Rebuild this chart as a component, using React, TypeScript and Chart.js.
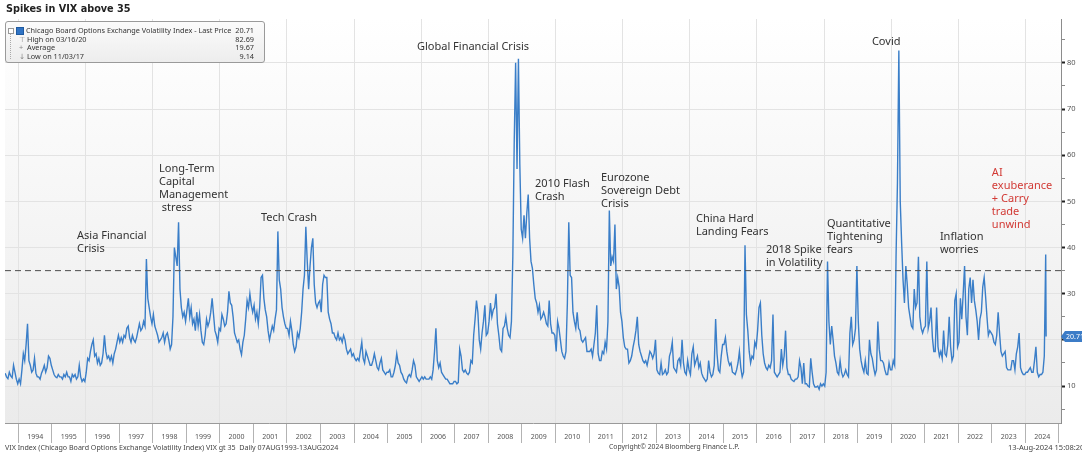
import React, { useEffect, useRef } from 'react';
import { Chart, registerables } from 'chart.js';

Chart.register(...registerables);

// VIX closes, one value per half month (first/second half of each month)
const vix1993 = [12.8, 12.0, 11.6, 13.0, 12.2, 11.8, 14.5, 13.0, 11.5, 10.5]; // from Aug 1993
const vix1994 = [11.5, 10.5, 13.5, 17.0, 15.5, 19.0, 23.5, 15.5, 14.5, 13.0, 13.5, 16.0, 12.8, 12.0, 12.0, 11.5, 12.8, 13.5, 14.5, 13.0, 14.0, 16.5, 16.0, 14.5];
const vix1995 = [13.5, 12.5, 12.0, 11.8, 12.5, 12.0, 12.0, 11.5, 12.5, 12.0, 13.0, 12.0, 12.0, 11.0, 12.5, 12.0, 12.5, 11.5, 12.0, 14.5, 12.0, 11.0, 11.5, 11.0];
const vix1996 = [13.0, 16.0, 15.5, 17.5, 19.0, 20.0, 16.5, 17.0, 15.0, 16.0, 14.5, 15.0, 17.0, 21.0, 17.5, 16.0, 16.5, 15.5, 16.5, 15.0, 17.0, 18.0, 19.5, 21.0];
const vix1997 = [19.5, 20.5, 19.5, 21.0, 20.5, 22.5, 23.0, 20.5, 19.5, 21.0, 20.0, 19.5, 20.5, 22.0, 23.5, 22.0, 22.5, 24.0, 23.0, 37.5, 29.0, 27.0, 25.0, 23.5];
const vix1998 = [25.5, 23.0, 22.0, 21.0, 19.5, 20.0, 20.5, 21.5, 19.5, 21.0, 21.5, 20.0, 18.0, 19.0, 25.0, 40.0, 38.0, 36.0, 45.5, 31.0, 27.0, 25.0, 26.0, 24.0];
const vix1999 = [26.5, 29.0, 25.0, 27.0, 23.5, 24.5, 22.0, 26.0, 23.0, 25.5, 22.0, 19.5, 19.0, 21.0, 24.5, 23.0, 24.0, 26.0, 29.0, 25.5, 22.0, 21.0, 19.5, 22.5];
const vix2000 = [22.0, 25.5, 24.5, 23.0, 23.5, 26.0, 30.5, 28.0, 27.5, 25.0, 21.5, 20.5, 19.5, 20.0, 18.0, 16.8, 19.5, 21.0, 24.5, 28.5, 27.0, 30.0, 27.5, 26.0];
const vix2001 = [27.5, 24.5, 26.0, 23.5, 27.0, 33.5, 34.0, 29.0, 26.5, 25.0, 22.0, 20.0, 21.5, 23.0, 22.0, 24.5, 26.5, 43.5, 33.0, 31.0, 27.0, 25.0, 23.5, 22.5];
const vix2002 = [22.5, 21.0, 24.0, 22.0, 19.0, 17.5, 18.5, 21.5, 20.5, 22.5, 26.0, 31.0, 34.0, 44.5, 37.0, 31.0, 36.0, 40.0, 42.0, 32.0, 28.0, 27.0, 28.0, 28.5];
const vix2003 = [26.0, 32.0, 34.0, 33.5, 33.5, 26.0, 24.5, 23.5, 21.5, 21.5, 20.5, 20.0, 21.5, 20.0, 20.5, 19.5, 21.0, 20.0, 18.0, 17.0, 17.5, 18.0, 16.5, 17.0];
const vix2004 = [16.0, 15.5, 16.0, 15.5, 17.5, 19.5, 16.0, 15.0, 17.5, 16.5, 15.5, 14.5, 14.5, 15.5, 17.0, 15.5, 14.0, 13.5, 15.0, 16.0, 13.5, 13.0, 12.5, 13.0];
const vix2005 = [13.0, 13.5, 12.0, 12.0, 13.0, 14.5, 17.0, 15.0, 14.5, 13.0, 12.5, 11.5, 11.0, 10.7, 12.0, 12.5, 12.0, 13.5, 15.5, 14.5, 12.0, 11.5, 11.0, 11.5];
const vix2006 = [12.0, 11.5, 12.0, 11.5, 11.5, 11.5, 12.0, 11.5, 13.5, 17.5, 22.5, 15.5, 14.0, 15.0, 13.0, 12.5, 12.0, 11.5, 11.5, 11.0, 10.5, 10.5, 10.5, 11.0];
const vix2007 = [11.0, 10.5, 10.8, 18.0, 16.5, 13.5, 13.0, 13.5, 12.8, 12.5, 13.0, 15.5, 15.0, 21.0, 24.5, 28.5, 26.0, 20.0, 18.0, 21.5, 24.0, 27.5, 21.0, 21.5];
const vix2008 = [24.0, 28.0, 25.0, 26.5, 27.0, 30.0, 23.5, 21.0, 18.0, 17.5, 22.5, 23.0, 25.0, 22.5, 21.0, 20.5, 24.0, 38.0, 63.0, 80.0, 57.0, 80.9, 58.0, 44.0];
const vix2009 = [42.0, 47.0, 42.0, 47.5, 51.5, 42.0, 37.0, 35.5, 32.0, 29.0, 28.0, 26.0, 27.5, 24.5, 25.0, 26.0, 25.0, 23.5, 23.0, 28.5, 23.5, 21.5, 21.5, 21.0];
const vix2010 = [17.5, 24.0, 22.5, 20.0, 17.5, 16.5, 16.0, 17.5, 28.0, 45.5, 34.0, 33.5, 26.0, 24.0, 22.5, 26.0, 22.5, 22.0, 20.0, 19.5, 20.0, 20.5, 17.5, 17.5];
const vix2011 = [17.5, 18.0, 16.5, 19.0, 21.5, 27.5, 17.0, 15.5, 15.5, 17.5, 17.0, 19.5, 18.0, 24.0, 48.0, 36.0, 38.0, 37.0, 45.0, 31.0, 33.5, 31.5, 26.0, 24.0];
const vix2012 = [20.5, 18.5, 18.0, 18.0, 15.0, 15.5, 16.5, 18.5, 20.0, 22.0, 25.0, 19.0, 17.5, 16.5, 15.5, 15.0, 15.5, 14.5, 16.0, 17.5, 17.0, 16.0, 17.0, 20.0];
const vix2013 = [13.5, 12.8, 12.5, 15.0, 12.5, 12.8, 13.5, 12.5, 13.0, 16.5, 17.5, 19.5, 14.0, 13.5, 13.0, 15.5, 16.0, 14.5, 20.0, 15.0, 13.0, 12.5, 15.5, 13.5];
const vix2014 = [12.5, 17.0, 18.5, 14.5, 15.5, 16.5, 14.0, 15.0, 12.8, 12.0, 11.5, 11.0, 11.5, 15.5, 13.0, 12.0, 12.5, 14.5, 24.5, 17.0, 13.5, 13.0, 16.5, 19.0];
const vix2015 = [19.0, 20.5, 17.5, 15.5, 14.5, 15.0, 13.0, 12.8, 12.5, 13.5, 15.0, 17.5, 14.0, 12.0, 13.0, 40.5, 25.5, 22.0, 17.5, 15.0, 16.5, 16.0, 19.5, 18.5];
const vix2016 = [22.0, 27.0, 28.0, 21.0, 17.0, 15.0, 14.0, 13.5, 14.5, 14.0, 15.5, 25.5, 13.0, 12.5, 12.0, 12.5, 13.0, 18.0, 14.5, 16.5, 22.0, 14.0, 12.5, 12.5];
const vix2017 = [11.5, 11.2, 11.0, 11.5, 11.5, 12.0, 15.5, 14.0, 10.5, 15.0, 10.5, 10.5, 10.0, 9.8, 16.0, 13.0, 10.5, 9.8, 9.8, 10.0, 9.3, 10.5, 10.0, 10.5];
const vix2018 = [10.0, 13.0, 37.0, 24.0, 19.0, 23.0, 20.0, 16.5, 15.0, 13.0, 12.5, 15.5, 13.0, 12.0, 12.5, 13.5, 12.5, 12.0, 21.5, 25.0, 19.0, 20.0, 22.5, 36.0];
const vix2019 = [24.0, 18.0, 15.5, 14.0, 13.0, 15.5, 12.8, 12.5, 20.0, 17.0, 16.0, 14.0, 12.5, 13.5, 24.0, 18.0, 15.5, 15.5, 15.0, 13.5, 12.5, 12.5, 15.0, 13.5];
const vix2020 = [13.5, 15.5, 14.5, 38.0, 54.0, 82.7, 50.0, 41.0, 33.0, 28.0, 36.0, 32.0, 27.0, 25.0, 23.0, 22.5, 31.0, 27.0, 28.0, 38.0, 25.0, 22.5, 21.5, 22.5];
const vix2021 = [23.0, 37.0, 22.5, 24.0, 27.0, 20.5, 17.5, 17.5, 27.0, 18.5, 16.5, 17.5, 16.0, 22.0, 17.0, 16.5, 19.0, 25.0, 18.5, 15.5, 16.5, 28.5, 30.0, 18.5];
const vix2022 = [19.5, 29.0, 24.5, 30.0, 36.0, 25.0, 21.0, 31.0, 33.5, 28.0, 33.0, 28.5, 26.5, 24.0, 20.0, 24.5, 26.0, 31.5, 33.5, 29.5, 25.0, 21.0, 22.0, 21.5];
const vix2023 = [21.0, 19.5, 19.0, 21.0, 26.0, 21.5, 17.5, 16.5, 17.0, 17.5, 14.0, 13.5, 13.5, 13.5, 15.5, 15.5, 13.5, 17.0, 18.5, 21.5, 14.0, 13.0, 12.5, 12.5];
const vix2024 = [13.0, 13.0, 13.5, 14.0, 13.0, 13.0, 15.5, 18.5, 13.0, 12.0, 12.5, 12.5, 13.0, 16.5, 38.5]; // to early Aug 2024

const firstYearStartHalfMonth = 14; // series begins in August 1993
const vixByYear: [number, number[]][] = [
  [1993, vix1993], [1994, vix1994], [1995, vix1995], [1996, vix1996], [1997, vix1997],
  [1998, vix1998], [1999, vix1999], [2000, vix2000], [2001, vix2001], [2002, vix2002],
  [2003, vix2003], [2004, vix2004], [2005, vix2005], [2006, vix2006], [2007, vix2007],
  [2008, vix2008], [2009, vix2009], [2010, vix2010], [2011, vix2011], [2012, vix2012],
  [2013, vix2013], [2014, vix2014], [2015, vix2015], [2016, vix2016], [2017, vix2017],
  [2018, vix2018], [2019, vix2019], [2020, vix2020], [2021, vix2021], [2022, vix2022],
  [2023, vix2023], [2024, vix2024],
];

const lastPrice = 20.71;
const lastDate = 2024.617; // 13 Aug 2024
const threshold = 35;

const yearLabels = ['1994', '1995', '1996', '1997', '1998', '1999', '2000', '2001', '2002', '2003', '2004',
  '2005', '2006', '2007', '2008', '2009', '2010', '2011', '2012', '2013', '2014', '2015', '2016', '2017',
  '2018', '2019', '2020', '2021', '2022', '2023', '2024'];
const gridYears = [1994, 1996, 1998, 2000, 2002, 2004, 2006, 2008, 2010, 2012, 2014, 2016, 2018, 2020, 2022, 2024];
const yTickValues = [5, 10, 15, 20, 25, 30, 35, 40, 45, 50, 55, 60, 65, 70, 75, 80, 85];
const yLabelValues = [10, 20, 30, 40, 50, 60, 70, 80];

const X_MIN = 1993.6;
const X_MAX = 2025.06;
const Y_MIN = 2;
const Y_MAX = 89.5;

// event annotations: anchored at (year, VIX level) of their first line
const annotations = [
  { at: 1995.745, level: 42.5, lines: ['Asia Financial', 'Crisis'], color: '#333333' },
  { at: 1998.187, level: 57.0, lines: ['Long-Term', 'Capital', 'Management', ' stress'], color: '#333333' },
  { at: 2001.226, level: 46.4, lines: ['Tech Crash'], color: '#333333' },
  { at: 2005.873, level: 83.5, lines: ['Global Financial Crisis'], color: '#333333' },
  { at: 2009.388, level: 53.8, lines: ['2010 Flash', 'Crash'], color: '#333333' },
  { at: 2011.354, level: 55.1, lines: ['Eurozone', 'Sovereign Debt', 'Crisis'], color: '#333333' },
  { at: 2014.184, level: 46.2, lines: ['China Hard', 'Landing Fears'], color: '#333333' },
  { at: 2016.269, level: 39.5, lines: ['2018 Spike', 'in Volatility'], color: '#333333' },
  { at: 2018.086, level: 45.1, lines: ['Quantitative', 'Tightening', 'fears'], color: '#333333' },
  { at: 2019.427, level: 84.6, lines: ['Covid'], color: '#333333' },
  { at: 2021.452, level: 42.3, lines: ['Inflation', 'worries'], color: '#333333' },
  { at: 2023.0, level: 56.2, lines: ['AI', 'exuberance', '+ Carry', 'trade', 'unwind'], color: '#d23a35' },
];

const decorPlugin = {
  id: 'decor',
  beforeDraw(chart: any) {
    const { ctx, chartArea: a } = chart;
    const g = ctx.createLinearGradient(0, a.top, 0, a.bottom);
    g.addColorStop(0, '#ffffff');
    g.addColorStop(1, '#ebebeb');
    ctx.save();
    ctx.fillStyle = g;
    ctx.fillRect(a.left, a.top, a.right - a.left, a.bottom - a.top);
    ctx.restore();
  },
  afterDraw(chart: any) {
    const { ctx, scales, chartArea } = chart;
    const xs = scales.x;
    const ys = scales.y;
    ctx.save();
    ctx.font = '11px "Noto Sans"';
    ctx.textBaseline = 'middle';
    ctx.textAlign = 'left';
    for (const an of annotations) {
      const px = xs.getPixelForValue(an.at);
      const py = ys.getPixelForValue(an.level);
      ctx.fillStyle = an.color;
      an.lines.forEach((line, i) => ctx.fillText(line, px, py + i * 13));
    }
    // last price tag on the right axis
    const ty = ys.getPixelForValue(lastPrice);
    const left = chartArea.right + 2;
    const right = chart.width;
    ctx.fillStyle = '#3c7cc7';
    ctx.beginPath();
    ctx.moveTo(left - 2, ty);
    ctx.lineTo(left + 2, ty - 5.5);
    ctx.lineTo(right, ty - 5.5);
    ctx.lineTo(right, ty + 5.5);
    ctx.lineTo(left + 2, ty + 5.5);
    ctx.closePath();
    ctx.fill();
    ctx.fillStyle = '#ffffff';
    ctx.font = '7px "Noto Sans"';
    ctx.fillText(lastPrice.toFixed(2), left + 3, ty + 0.5);
    ctx.restore();
  },
};

export default function App() {
  const canvasRef = useRef<HTMLCanvasElement>(null);

  useEffect(() => {
    document.body.style.margin = '0';
    const canvas = canvasRef.current;
    if (!canvas) return;

    const points: { x: number; y: number }[] = [];
    vixByYear.forEach(([year, values], idx) => {
      const startHalf = idx === 0 ? firstYearStartHalfMonth : 0;
      values.forEach((v, k) => {
        points.push({ x: year + (startHalf + k + 0.5) / 24, y: v });
      });
    });
    points.push({ x: lastDate, y: lastPrice });

    const isMajor = (v: number) => yLabelValues.includes(v);

    const chart = new Chart(canvas, {
      type: 'line',
      data: {
        datasets: [
          {
            data: [{ x: X_MIN, y: threshold }, { x: X_MAX, y: threshold }],
            borderColor: '#4d4d4d',
            borderWidth: 1,
            borderDash: [6, 4],
            pointRadius: 0,
          },
          {
            data: points,
            borderColor: '#3a7ec8',
            borderWidth: 1.4,
            pointRadius: 0,
            tension: 0,
          },
        ],
      },
      options: {
        responsive: false,
        animation: false,
        devicePixelRatio: 1,
        parsing: false,
        layout: { padding: { left: 5, top: 19, right: 0, bottom: 0 } },
        plugins: {
          legend: { display: false },
          tooltip: { enabled: false },
        },
        scales: {
          x: {
            type: 'linear',
            position: 'bottom',
            min: X_MIN,
            max: X_MAX,
            afterBuildTicks: (s: any) => {
              s.ticks = yearLabels.map((l) => ({ value: Number(l) + 0.5 }));
            },
            afterFit: (s: any) => {
              s.height = 30;
            },
            grid: {
              offset: true,
              drawOnChartArea: false,
              drawTicks: true,
              tickLength: 20,
              color: '#b3b3b3',
            },
            border: { display: true, color: '#9a9a9a' },
            ticks: {
              autoSkip: false,
              maxRotation: 0,
              padding: -10,
              color: '#555555',
              font: { family: 'Noto Sans', size: 7 },
              callback: (_v: any, i: number) => yearLabels[i],
            },
          },
          xg: {
            type: 'linear',
            position: 'top',
            min: X_MIN,
            max: X_MAX,
            afterBuildTicks: (s: any) => {
              s.ticks = gridYears.map((v) => ({ value: v }));
            },
            afterFit: (s: any) => {
              s.height = 0;
            },
            grid: { drawTicks: false, color: '#e3e3e3' },
            border: { display: false },
            ticks: { display: false },
          },
          y: {
            type: 'linear',
            position: 'right',
            min: Y_MIN,
            max: Y_MAX,
            afterBuildTicks: (s: any) => {
              s.ticks = yTickValues.map((v) => ({ value: v }));
            },
            afterFit: (s: any) => {
              s.width = 21;
            },
            grid: {
              color: (c: any) => (c.tick && isMajor(c.tick.value) ? '#e3e3e3' : 'rgba(0,0,0,0)'),
              tickColor: (c: any) => (c.tick && isMajor(c.tick.value) ? '#222222' : '#8a8a8a'),
              tickWidth: (c: any) => (c.tick && isMajor(c.tick.value) ? 2 : 1),
              tickLength: 4,
              drawTicks: true,
            },
            border: { display: true, color: '#8c8c8c' },
            ticks: {
              autoSkip: false,
              padding: 2,
              color: '#555555',
              font: { family: 'Noto Sans', size: 7.5 },
              callback: (v: any) => (isMajor(Number(v)) ? String(v) : ''),
            },
          },
        },
      },
      plugins: [decorPlugin],
    } as any);

    return () => chart.destroy();
  }, []);

  const small = { fontFamily: '"Noto Sans", "DejaVu Sans", sans-serif', fontSize: 7.3, color: '#333' };
  const rowStyle = (top: number) => ({
    position: 'absolute' as const, left: 0, right: 0, top, height: 9, lineHeight: '9px', whiteSpace: 'nowrap' as const,
  });
  const footer = { position: 'absolute' as const, top: 442, fontFamily: '"Noto Sans", sans-serif', color: '#444', whiteSpace: 'nowrap' as const };

  return (
    <div style={{ position: 'relative', width: 1082, height: 453, background: '#ffffff', overflow: 'hidden' }}>
      <canvas ref={canvasRef} width={1082} height={453} style={{ position: 'absolute', left: 0, top: 0 }} />
      <div style={{ position: 'absolute', left: 6, top: 3, fontFamily: '"DejaVu Sans", sans-serif', fontWeight: 'bold', fontSize: 9.7, color: '#222', whiteSpace: 'nowrap' }}>
        Spikes in VIX above 35
      </div>
      <div style={{ position: 'absolute', left: 5, top: 21, width: 260, height: 42, boxSizing: 'border-box', border: '1px solid #9a9a9a', borderRadius: 3, background: 'linear-gradient(#fbfbfb, #ededed)', ...small }}>
        <div style={{ position: 'absolute', left: 4, top: 8, width: 1, height: 29, borderLeft: '1px dotted #aaa' }} />
        <div style={{ ...rowStyle(3.5) }}>
          <span style={{ position: 'absolute', left: 2, top: 2, width: 4, height: 4, border: '1px solid #999', background: '#fff' }} />
          <span style={{ position: 'absolute', left: 10, top: 1, width: 8, height: 8, background: '#2f73c4', border: '1px solid #1f5aa0', boxSizing: 'border-box' }} />
          <span style={{ position: 'absolute', left: 20 }}>Chicago Board Options Exchange Volatility Index - Last Price</span>
          <span style={{ position: 'absolute', right: 10 }}>20.71</span>
        </div>
        <div style={{ ...rowStyle(12.5) }}>
          <span style={{ position: 'absolute', left: 13, color: '#888' }}>⊤</span>
          <span style={{ position: 'absolute', left: 21 }}>High on 03/16/20</span>
          <span style={{ position: 'absolute', right: 10 }}>82.69</span>
        </div>
        <div style={{ ...rowStyle(21) }}>
          <span style={{ position: 'absolute', left: 13, color: '#888' }}>+</span>
          <span style={{ position: 'absolute', left: 21 }}>Average</span>
          <span style={{ position: 'absolute', right: 10 }}>19.67</span>
        </div>
        <div style={{ ...rowStyle(29.5) }}>
          <span style={{ position: 'absolute', left: 13, color: '#888' }}>↓</span>
          <span style={{ position: 'absolute', left: 21 }}>Low on 11/03/17</span>
          <span style={{ position: 'absolute', right: 10 }}>9.14</span>
        </div>
      </div>
      <div style={{ ...footer, left: 5, fontSize: 7.1 }}>
        VIX Index (Chicago Board Options Exchange Volatility Index) VIX gt 35&nbsp;&nbsp;Daily 07AUG1993-13AUG2024
      </div>
      <div style={{ ...footer, left: 609, fontSize: 6.8 }}>
        Copyright© 2024 Bloomberg Finance L.P.
      </div>
      <div style={{ ...footer, left: 1008, fontSize: 7.5 }}>
        13-Aug-2024 15:08:20
      </div>
    </div>
  );
}
